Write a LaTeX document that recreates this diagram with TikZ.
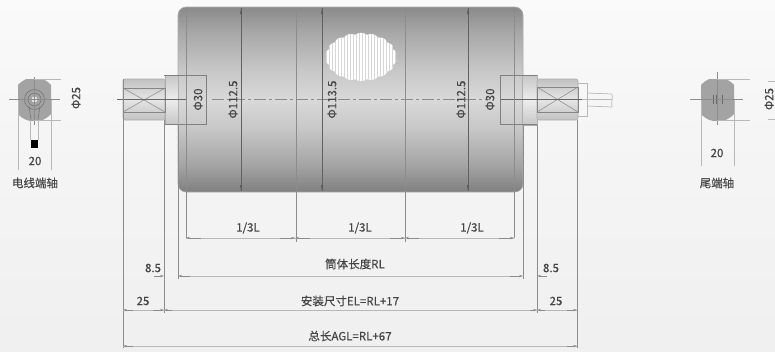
\documentclass[tikz,border=0pt]{standalone}
\usepackage{fontspec}
\setmainfont[FakeBold=0.35]{Noto Sans CJK SC}
\usetikzlibrary{arrows.meta}
\definecolor{inkc}{HTML}{454545}
\definecolor{linec}{HTML}{8C8C8C}
\definecolor{lightl}{HTML}{B8B8B8}
\pgfdeclareverticalshading{bodyshade}{100bp}{color(0bp)=(black!50);color(25bp)=(black!50);color(32bp)=(black!36);color(42bp)=(black!22);color(50bp)=(black!15);color(58bp)=(black!22);color(68bp)=(black!34);color(75bp)=(black!46);color(100bp)=(black!46)}
\pgfdeclareverticalshading{pageshade}{100bp}{color(0bp)=(black!6);color(25bp)=(black!6);color(55bp)=(black!4);color(75bp)=(black!2);color(100bp)=(black!2)}
\tikzset{
  x=1pt,y=-1pt,
  lab/.style={text=inkc,font=\fontsize{11.5}{13}\selectfont,inner sep=0pt},
  vlab/.style={lab,rotate=90},
  ext/.style={draw=linec,line width=0.8pt},
  dim/.style={draw=lightl,line width=0.8pt},
  tipped/.style={draw=linec,line width=0.7pt,-{Stealth[length=4pt,width=2.4pt]}},
  dia/.style={draw=black!62,line width=0.7pt},
  centre/.style={draw=black!45,line width=0.7pt,dash pattern=on 12pt off 3pt on 3pt off 3pt},
  shaftfill/.style={top color=black!24,bottom color=black!24,middle color=black!10,draw=black!32,line width=0.6pt},
  collarfill/.style={top color=black!22,bottom color=black!22,middle color=black!7,draw=black!32,line width=0.6pt},
  thin dark/.style={draw=black!48,line width=0.5pt},
}
\begin{document}
\begin{tikzpicture}
\useasboundingbox (0,0) rectangle (775,351);
\shade[shading=pageshade] (0,0) rectangle (775,351);

% drum
\shade[shading=bodyshade,rounded corners=8pt] (178,7) rectangle (523,192);
\draw[black!32,line width=0.6pt,rounded corners=8pt] (178,7) rectangle (523,192);

% window
\begin{scope}
\path[clip] plot[domain=0:360,samples=240,smooth] ({361+(34+1.6*abs(sin(9*\x)))*cos(\x)},{57+(22.5+1.6*abs(sin(9*\x)))*sin(\x)});
\fill[white] (320,30) rectangle (400,85);
\foreach \i in {0,...,24} \draw[black!16,line width=0.5pt] (326+3*\i,30) -- (326+3*\i,85);
\end{scope}

% left shaft and collar
\path[shaftfill,rounded corners=2pt] (123,79) rectangle (165,120);
\path[collarfill] (165,75) rectangle (178,124);
\draw[thin dark] (123,88) rectangle (165,112);
\draw[thin dark] (123,88) -- (165,112) (123,112) -- (165,88);
% right shaft and collar
\path[collarfill] (522,75) rectangle (537,125);
\path[shaftfill,rounded corners=2pt] (537,79) rectangle (578,120);
\draw[thin dark] (537,87) rectangle (578,112);
\draw[thin dark] (537,87) -- (578,112) (537,112) -- (578,87);
% cable stub
\draw[lightl,line width=0.7pt] (578,83) -- (587,83) -- (587,116) -- (578,116);
\draw[lightl,line width=0.7pt] (587,93) -- (612,94) .. controls (613,99) and (611,102) .. (612,107) -- (587,106);

% centre lines
\draw[black!60,line width=0.9pt] (117,99.5) -- (187,99.5);
\draw[black!60,line width=0.9pt] (500,99.5) -- (582,99.5);
\draw[centre] (212,99.5) -- (490,99.5);
\draw[lightl,line width=0.6pt] (582,99.5) -- (612,99.5);

% diameter lines through the drum
\draw[dia] (241,8) -- (241,191);
\draw[dia] (322,8) -- (322,191);
\draw[dia] (468,8) -- (468,191);
\fill[black!65] (241,8) -- (240,14) -- (242,14) -- cycle (241,191) -- (240,185) -- (242,185) -- cycle
 (322,8) -- (321,14) -- (323,14) -- cycle (322,191) -- (321,185) -- (323,185) -- cycle
 (468,8) -- (467,14) -- (469,14) -- cycle (468,191) -- (467,185) -- (469,185) -- cycle;
\draw[ext] (296,8) -- (296,242);
\draw[ext] (405,8) -- (405,242);
\draw[ext] (186,8) -- (186,238);
\draw[ext] (514,8) -- (514,238);

% phi 30 brackets
\draw[black!50,line width=0.55pt] (164,75) -- (206,75) -- (206,124) -- (164,124);
\draw[black!50,line width=0.55pt] (537,75) -- (500,75) -- (500,124) -- (537,124);

% extension lines
\draw[ext] (123,79) -- (123,348);
\draw[ext] (164,120) -- (164,313);
\draw[ext] (178,124) -- (178,279);
\draw[ext] (523,124) -- (523,279);
\draw[ext] (537,125) -- (537,313);
\draw[ext] (577,120) -- (577,348);

% dimension rows
\draw[dim] (186,238) -- (514,238);
\foreach \a/\b in {201/186,280/295,310/295,390/405,419/405,499/514}
  \draw[tipped] (\a,238) -- (\b,238);
\draw[dim] (190,276) -- (510,276);
\draw[tipped] (154,276) -- (164,276);
\draw[tipped] (190,276) -- (178,276);
\draw[tipped] (510,276) -- (523,276);
\draw[tipped] (547,276) -- (537,276);
\draw[dim] (123,310) -- (577,310);
\draw[tipped] (133,310) -- (123,310);
\draw[tipped] (153,310) -- (164,310);
\draw[tipped] (172,310) -- (164,310);
\draw[tipped] (530,310) -- (537,310);
\draw[tipped] (545,310) -- (537,310);
\draw[tipped] (567,310) -- (577,310);
\draw[dim] (123,346) -- (577,346);
\draw[tipped] (133,346) -- (123,346);
\draw[tipped] (567,346) -- (577,346);

% left end view
\begin{scope}
\clip (18,79) rectangle (51,120);
\fill[black!36] (34.5,99.5) circle (22);
\end{scope}
\draw[black!55,line width=0.6pt] (34.5,99.5) circle (10);
\draw[black!55,line width=0.6pt] (34.5,99.5) circle (6.5);
\fill[black!10] (34.5,99.5) circle (3);
\draw[black!55,line width=0.5pt] (29,106) -- (31,120) (40,106) -- (38,120);
\draw[lightl,line width=0.7pt] (30,120) -- (30,140) (38,120) -- (38,140);
\fill[black] (31,140) rectangle (38,148);
\draw[linec,line width=0.6pt] (9,99.5) -- (60,99.5);
\draw[linec,line width=0.6pt] (34.5,77) -- (34.5,125);
\draw[lightl,line width=0.7pt] (34,79) -- (61,79) (34,120) -- (61,120);
\draw[lightl,line width=0.7pt] (18,100) -- (18,170) (51,100) -- (51,170);

% right end view
\begin{scope}
\clip (701,79) rectangle (734,120);
\fill[black!36] (717.5,99.5) circle (22);
\end{scope}
\draw[black!60,line width=0.7pt] (713,95) -- (713,104) (722,95) -- (722,104) (716,95) -- (716,104);
\draw[linec,line width=0.6pt] (690,99.5) -- (743,99.5);
\draw[linec,line width=0.6pt] (717.5,72) -- (717.5,125);
\draw[lightl,line width=0.7pt] (717,79) -- (750,79) (717,120) -- (750,120);
\draw[lightl,line width=0.7pt] (701,100) -- (701,166) (734,100) -- (734,166);
\draw[lightl,line width=0.7pt] (768,81) -- (775,81) (768,119) -- (775,119);

% labels
\node[lab] (n1) at (248,228) {1/3L};
\node[lab] (n2) at (360,228) {1/3L};
\node[lab] (n3) at (472,228) {1/3L};
\node[lab] (n4) at (153,268) {8.5};
\node[lab] (n5) at (551,268) {8.5};
\node[lab] (n6) at (143,301) {25};
\node[lab] (n7) at (556,301) {25};
\node[lab] (n8) at (355,264) {筒体长度RL};
\node[lab] (n9) at (350,301) {安装尺寸EL=RL+17};
\node[lab] (n10) at (350,336) {总长AGL=RL+67};
\node[vlab] (n11) at (198,99.5) {Φ30};
\node[vlab] (n12) at (233,99.5) {Φ112.5};
\node[vlab] (n13) at (332,99.5) {Φ113.5};
\node[vlab] (n14) at (461,99.5) {Φ112.5};
\node[vlab] (n15) at (490,99.5) {Φ30};
\node[vlab] (n16) at (76,98) {Φ25};
\node[vlab] (n17) at (769,99) {Φ25};
\node[lab] (n18) at (35,161) {20};
\node[lab] (n19) at (717,153) {20};
\node[lab] (n20) at (35,183) {电线端轴};
\node[lab] (n21) at (717,183) {尾端轴};
\end{tikzpicture}
\end{document}
